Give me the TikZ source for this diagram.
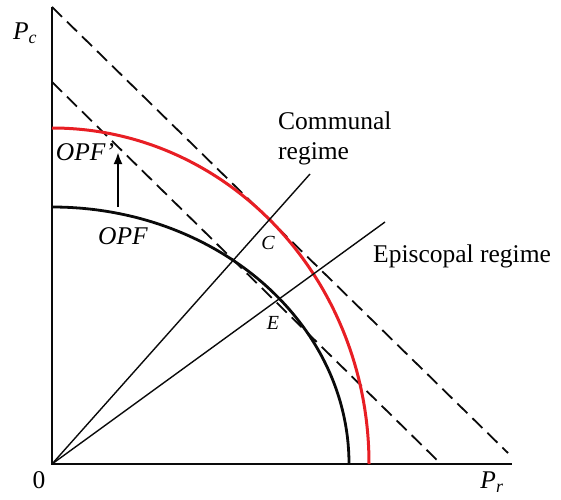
\documentclass[tikz,border=0pt]{standalone}
\usepackage{fontspec}
\setmainfont{Liberation Serif}
\usepackage{tikz}
\usetikzlibrary{arrows.meta, positioning, calc}
\definecolor{opfred}{RGB}{232, 30, 36}
\definecolor{inkblack}{RGB}{10, 10, 10}

\begin{document}
\begin{tikzpicture}[x=1pt, y=1pt, every node/.style={font=\fontsize{25.5}{30}\selectfont, inner sep=0pt}]
    % Styles
    \tikzstyle{axisline} = [draw=inkblack, line width=1.8pt]
    \tikzstyle{frontier} = [draw=inkblack, line width=2.8pt]
    \tikzstyle{newfrontier} = [draw=opfred, line width=3pt]
    \tikzstyle{budget} = [draw=inkblack, line width=1.8pt, dash pattern=on 14pt off 7pt]
    \tikzstyle{regimeray} = [draw=inkblack, line width=1.4pt]
    \tikzstyle{pointlbl} = [font=\fontsize{20}{22}\selectfont\itshape]

    \useasboundingbox (-52,-35) rectangle (509,464);

    % Coordinates
    \coordinate (O) at (0,0);
    \coordinate (ytop) at (0,457);
    \coordinate (xend) at (460,0);
    \coordinate (outerA) at (0,457);
    \coordinate (outerB) at (456,11);
    \coordinate (innerA) at (0,382);
    \coordinate (innerB) at (389,0);
    \coordinate (communal) at (258,290);
    \coordinate (episcopal) at (333,242);
    \coordinate (shiftfrom) at (66,257);
    \coordinate (shiftto) at (66,312);

    % Axes
    \draw[axisline] (ytop) -- (O) -- (xend);

    % Budget lines
    \draw[budget] (outerA) -- (outerB);
    \draw[budget] (innerA) -- (innerB);

    % Frontiers
    \draw[frontier] (0,257) arc[start angle=90, end angle=0, x radius=297, y radius=257];
    \draw[newfrontier] (0,336) arc[start angle=90, end angle=0, x radius=317, y radius=336];

    % Regime rays
    \draw[regimeray] (O) -- (communal);
    \draw[regimeray] (O) -- (episcopal);

    % Shift arrow
    \draw[line width=2.6pt, -{Latex[length=12pt, width=9pt]}] (shiftfrom) -- (shiftto);

    % Labels
    \node (pc) at (-27,431) {\textit{P\textsubscript{c}}};
    \node (zero) at (-13,-16) {0};
    \node (pr) at (440,-18) {\textit{P\textsubscript{r}}};
    \node (opfnew) at (33,312) {\textit{OPF'}};
    \node (opf) at (71,228) {\textit{OPF}};
    \node (comlbl) [anchor=base west, align=left] at (226,305) {Communal\\regime};
    \node (epilbl) [anchor=base west] at (321,202) {Episcopal regime};
    \node (ptC) [pointlbl] at (216,221) {C};
    \node (ptE) [pointlbl] at (221,141) {E};
\end{tikzpicture}
\end{document}
